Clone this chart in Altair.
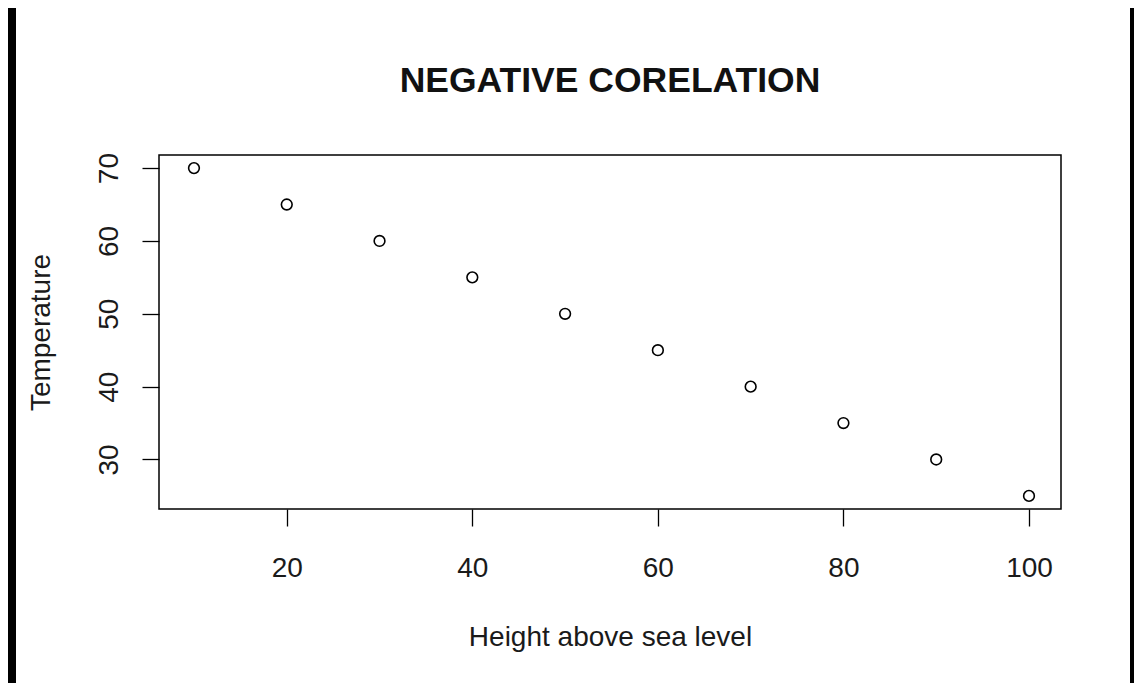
import altair as alt
import pandas as pd

height_m = [10, 20, 30, 40, 50, 60, 70, 80, 90, 100]
temperature = [70, 65, 60, 55, 50, 45, 40, 35, 30, 25]
x_ticks = [20, 40, 60, 80, 100]
y_ticks = [30, 40, 50, 60, 70]
chart_title = "NEGATIVE CORELATION"

df = pd.DataFrame({"h": height_m, "t": temperature})

FONT = "Liberation Sans"

points = alt.Chart(df).mark_point(
    shape="circle", filled=False, color="black", strokeWidth=1.6, size=115, opacity=1
).encode(
    x=alt.X("h:Q", scale=alt.Scale(domain=[6.23, 103.45], nice=False, zero=False),
            axis=alt.Axis(values=x_ticks, title="Height above sea level", grid=False, domain=False,
                          tickSize=17, tickColor="black", tickWidth=1.3,
                          labelFont=FONT, labelFontSize=28, labelColor="#1a1a1a",
                          labelPadding=50, labelBaseline="alphabetic", labelFlush=False,
                          titleFont=FONT, titleFontSize=28, titleFontWeight="normal", titleColor="#1a1a1a",
                          titleBaseline="alphabetic", titleY=136, titleX=451, titleAlign="center")),
    y=alt.Y("t:Q", scale=alt.Scale(domain=[23.2, 71.8], nice=False, zero=False),
            axis=alt.Axis(values=y_ticks, title="Temperature", grid=False, domain=False,
                          tickSize=17, tickColor="black", tickWidth=1.3,
                          labelFont=FONT, labelFontSize=28, labelColor="#1a1a1a",
                          labelAngle=270, labelAlign="center", labelBaseline="alphabetic",
                          labelPadding=25, labelFlush=False,
                          titleFont=FONT, titleFontSize=28, titleFontWeight="normal", titleColor="#1a1a1a",
                          titleAngle=270, titleBaseline="alphabetic", titleAlign="center",
                          titleX=-110, titleY=177)),
)

one = alt.Data(values=[{"s": 1}])
strip_left = alt.Chart(one).mark_rect(color="black").encode(
    x=alt.value(-151), x2=alt.value(-143), y=alt.value(-147), y2=alt.value(528)
)
strip_right = alt.Chart(one).mark_rect(color="black").encode(
    x=alt.value(971), x2=alt.value(975), y=alt.value(-147), y2=alt.value(528)
)
title_text = alt.Chart(one).mark_text(
    font=FONT, fontSize=35.5, fontWeight="bold", color="#111111",
    align="center", baseline="alphabetic"
).encode(
    x=alt.value(451), y=alt.value(-63), text=alt.value(chart_title)
)

chart = alt.layer(points, strip_left, strip_right, title_text).properties(
    width=902, height=354,
    padding={"left": 151, "top": 147, "right": 73, "bottom": 174},
    autosize=alt.AutoSizeParams(type="none"),
    background="white",
).configure_view(stroke="black", strokeWidth=1.5)

chart.save("out.html", embed_options={"renderer": "svg", "actions": False})
